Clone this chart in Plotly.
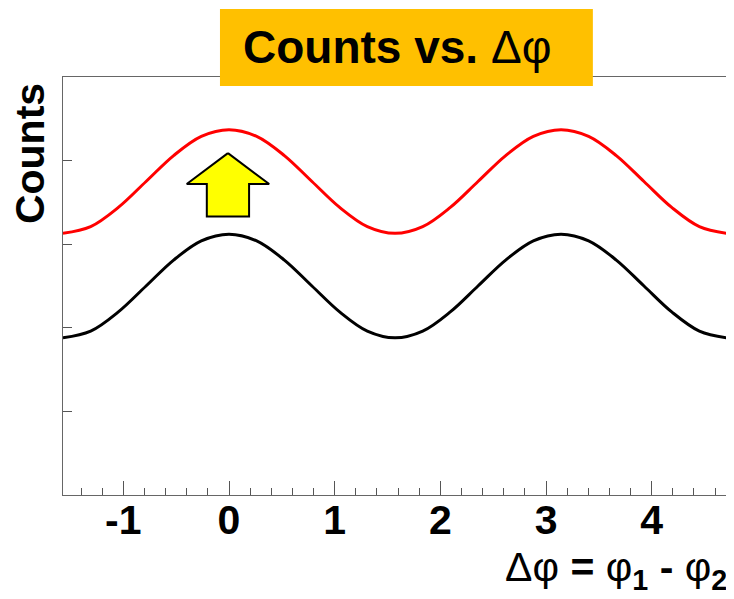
import plotly.graph_objects as go

# x positions (radians)
dphi = [-1.571, -1.309, -1.047, -0.785, -0.524, -0.262, 0.000, 0.262, 0.524, 0.785,
        1.047, 1.309, 1.571, 1.833, 2.094, 2.356, 2.618, 2.880, 3.142, 3.403,
        3.665, 3.927, 4.189, 4.451, 4.712]
counts_black = [1.88, 1.96, 2.19, 2.50, 2.81, 3.04, 3.12, 3.04, 2.81, 2.50,
                2.19, 1.96, 1.88, 1.96, 2.19, 2.50, 2.81, 3.04, 3.12, 3.04,
                2.81, 2.50, 2.19, 1.96, 1.88]
counts_red = [3.13, 3.21, 3.44, 3.75, 4.06, 4.29, 4.37, 4.29, 4.06, 3.75,
              3.44, 3.21, 3.13, 3.21, 3.44, 3.75, 4.06, 4.29, 4.37, 4.29,
              4.06, 3.75, 3.44, 3.21, 3.13]

# up-arrow outline
arrow_x = [-0.01, 0.38, 0.19, 0.19, -0.21, -0.21, -0.40, -0.01]
arrow_y = [4.09, 3.72, 3.72, 3.33, 3.33, 3.72, 3.72, 4.09]

x_ticks = [-1, 0, 1, 2, 3, 4]
x_ticklabels = ["-1", "0", "1", "2", "3", "4"]
y_ticks = [1, 2, 3, 4]

FONT = "Liberation Sans, Arial, sans-serif"

fig = go.Figure()
fig.add_trace(go.Scatter(x=dphi, y=counts_black, mode="lines",
                         line=dict(color="black", width=3, shape="spline"),
                         showlegend=False))
fig.add_trace(go.Scatter(x=dphi, y=counts_red, mode="lines",
                         line=dict(color="#FF0000", width=3, shape="spline"),
                         showlegend=False))
fig.add_trace(go.Scatter(x=arrow_x, y=arrow_y, mode="lines", fill="toself",
                         fillcolor="#FFFF00", line=dict(color="black", width=2),
                         showlegend=False))

fig.update_layout(
    width=726, height=591,
    margin=dict(l=55, r=7, t=69, b=104),
    paper_bgcolor="white", plot_bgcolor="white",
    font=dict(family=FONT, color="black"),
)
fig.update_xaxes(
    range=[-1.5708, 4.7124], tickvals=x_ticks, ticktext=x_ticklabels,
    ticks="inside", ticklen=14, tickcolor="#555555", tickwidth=1,
    ticklabelstandoff=-11,
    minor=dict(dtick=0.2, tick0=0, ticks="inside", ticklen=7, tickcolor="#555555", showgrid=False),
    showgrid=False, zeroline=False, showline=True, linecolor="#666666", linewidth=1,
    mirror=True, tickfont=dict(family=FONT, size=41, weight="bold", color="black"),
)
fig.update_yaxes(
    range=[0, 5], tickvals=y_ticks, ticks="inside", ticklen=9, tickcolor="#555555",
    showticklabels=False, showgrid=False, zeroline=False, showline=True,
    linecolor="#666666", linewidth=1, mirror=True,
)

# title box
fig.add_shape(type="rect", xref="paper", yref="paper",
              x0=0.2364, x1=0.798, y0=0.9785, y1=1.1627,
              fillcolor="#FFC000", line=dict(width=0), layer="above")
fig.add_annotation(xref="paper", yref="paper", x=0.5045, y=1.0718,
                   text="<b>Counts vs. </b>Δφ", showarrow=False,
                   font=dict(family=FONT, size=46, color="black"),
                   xanchor="center", yanchor="middle")
# y-axis title
fig.add_annotation(xref="paper", yref="paper", x=-0.0497, y=0.818,
                   text="<b>Counts</b>", textangle=-90, showarrow=False,
                   font=dict(family=FONT, size=41, color="black"),
                   xanchor="center", yanchor="middle")
# x-axis title
fig.add_annotation(xref="paper", yref="paper", x=1.003, y=-0.112,
                   text="Δφ <b>=</b> φ<sub><b>1</b></sub> <b>-</b> φ<sub><b>2</b></sub>",
                   showarrow=False, font=dict(family=FONT, size=41, color="black"),
                   xanchor="right", yanchor="top")

fig.write_html("out.html")
